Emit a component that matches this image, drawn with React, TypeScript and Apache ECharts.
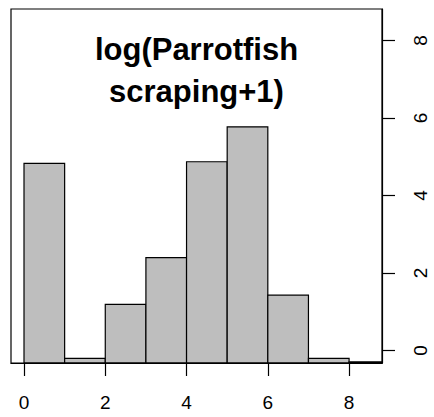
import React, { useEffect, useRef } from "react";
import * as echarts from "echarts";

const binEdges = [0, 1, 2, 3, 4, 5, 6, 7, 8, 9];
const barTops = [4.83, -0.2, 1.19, 2.4, 4.87, 5.77, 1.43, -0.2, -0.29];
const xTicks = [0, 2, 4, 6, 8];
const yTicks = [0, 2, 4, 6, 8];
const titleLines = ["log(Parrotfish", "scraping+1)"];

const AXIS_MIN = -0.32;
const AXIS_MAX = 8.81;

export default function App() {
  const ref = useRef<HTMLDivElement>(null);

  useEffect(() => {
    if (!ref.current) return;
    const chart = echarts.init(ref.current, null, { renderer: "svg" });
    const data = barTops.map((t, i) => [binEdges[i], binEdges[i + 1], t]);
    const labelFont = {
      color: "#000",
      fontSize: 19,
      fontFamily: "Liberation Sans, Arial, sans-serif",
    };
    const tickStyle = { color: "#000", width: 1.2 };
    chart.setOption({
      animation: false,
      backgroundColor: "#fff",
      grid: {
        left: 11,
        right: 52,
        top: 9,
        bottom: 54,
        show: true,
        borderColor: "#000",
        borderWidth: 1.2,
        backgroundColor: "transparent",
        z: 10,
      },
      xAxis: {
        type: "value",
        min: AXIS_MIN,
        max: AXIS_MAX,
        axisLine: { show: true, onZero: false, lineStyle: tickStyle },
        splitLine: { show: false },
        axisTick: {
          show: true,
          customValues: xTicks,
          length: 13,
          inside: false,
          lineStyle: tickStyle,
        },
        axisLabel: {
          ...labelFont,
          customValues: xTicks,
          margin: 30,
        },
      },
      yAxis: {
        type: "value",
        position: "right",
        min: AXIS_MIN,
        max: AXIS_MAX,
        axisLine: { show: true, onZero: false, lineStyle: tickStyle },
        splitLine: { show: false },
        axisTick: {
          show: true,
          customValues: yTicks,
          length: 13,
          inside: false,
          lineStyle: tickStyle,
        },
        axisLabel: {
          ...labelFont,
          customValues: yTicks,
          rotate: 90,
          margin: 29,
        },
      },
      graphic: [
        {
          type: "text",
          x: 196.5,
          y: 28.3,
          z: 20,
          style: {
            text: titleLines.join("\n"),
            fill: "#000",
            font: "bold 31px 'Liberation Sans', Arial, sans-serif",
            align: "center",
            verticalAlign: "top",
            lineHeight: 42,
          },
        },
      ],
      series: [
        {
          type: "custom",
          data,
          encode: { x: [0, 1], y: 2 },
          renderItem: (params: any, api: any) => {
            const x0 = api.value(0);
            const x1 = api.value(1);
            const top = api.value(2);
            const p0 = api.coord([x0, AXIS_MIN]);
            const p1 = api.coord([x1, top]);
            const cs = params.coordSys;
            const rect = echarts.graphic.clipRectByRect(
              { x: p0[0], y: p1[1], width: p1[0] - p0[0], height: p0[1] - p1[1] },
              { x: cs.x, y: cs.y, width: cs.width, height: cs.height }
            );
            if (!rect) return null;
            return {
              type: "rect",
              shape: rect,
              style: { fill: "#BEBEBE", stroke: "#000", lineWidth: 1.2 },
            };
          },
        },
      ],
    });
    return () => chart.dispose();
  }, []);

  return (
    <div
      ref={ref}
      style={{ position: "fixed", left: 0, top: 0, width: 434, height: 417 }}
    />
  );
}
